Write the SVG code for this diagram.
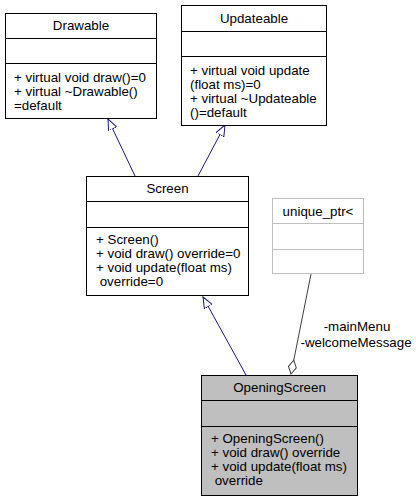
<svg xmlns="http://www.w3.org/2000/svg" width="416" height="501" viewBox="0 0 416 501">
<defs>
<style>
text{font-family:"Liberation Sans",Arial,sans-serif;font-size:13.33px;fill:#000;white-space:pre}
.t{text-anchor:middle}
.box{fill:#fff;stroke:#000;stroke-width:1}
.div{stroke:#000;stroke-width:1}
.gbox{fill:#fff;stroke:#bfbfbf;stroke-width:1}
.gdiv{stroke:#bfbfbf;stroke-width:1}
.cur{fill:#bfbfbf;stroke:#000;stroke-width:1}
.inh{stroke:#191970;stroke-width:1;fill:none;marker-end:url(#tri)}
.agg{stroke:#404040;stroke-width:1;fill:none;marker-end:url(#dia)}
</style>
<marker id="tri" markerUnits="userSpaceOnUse" markerWidth="14" markerHeight="12" refX="11" refY="6" orient="auto" viewBox="0 0 14 12">
<path d="M11,6 L0,1.5 L0,10.5 Z" fill="#fff" stroke="#191970" stroke-width="1"/>
</marker>
<marker id="dia" markerUnits="userSpaceOnUse" markerWidth="16" markerHeight="10" refX="15" refY="5" orient="auto" viewBox="0 0 16 10">
<path d="M15,5 L8,1 L1,5 L8,9 Z" fill="#fff" stroke="#404040" stroke-width="1"/>
</marker>
</defs>
<rect width="416" height="501" fill="#fff"/>
<g id="connectors">
<line class="inh" x1="135" y1="176" x2="108" y2="119"/>
<line class="inh" x1="198" y1="176" x2="225" y2="125"/>
<line class="inh" x1="246" y1="375" x2="203" y2="297"/>
<line class="agg" x1="311" y1="274" x2="291" y2="374"/>
<text class="t" x="357" y="331">-mainMenu</text>
<text class="t" x="356" y="347">-welcomeMessage</text>
</g>
<g id="Drawable">
<rect class="box" x="5.5" y="13.5" width="151" height="105"/>
<line class="div" x1="5.5" y1="38.5" x2="156.5" y2="38.5"/>
<line class="div" x1="5.5" y1="63.5" x2="156.5" y2="63.5"/>
<text class="t" x="81" y="30">Drawable</text>
<text x="14" y="82">+ virtual void draw()=0</text>
<text x="14" y="96">+ virtual ~Drawable()</text>
<text x="14" y="110">=default</text>
</g>
<g id="Updateable">
<rect class="box" x="181.5" y="5.5" width="145" height="120"/>
<line class="div" x1="181.5" y1="31.5" x2="326.5" y2="31.5"/>
<line class="div" x1="181.5" y1="56.5" x2="326.5" y2="56.5"/>
<text class="t" x="254" y="23">Updateable</text>
<text x="190" y="75">+ virtual void update</text>
<text x="190" y="89">(float ms)=0</text>
<text x="190" y="103">+ virtual ~Updateable</text>
<text x="190" y="117">()=default</text>
</g>
<g id="Screen">
<rect class="box" x="86.5" y="176.5" width="162" height="119"/>
<line class="div" x1="86.5" y1="201.5" x2="248.5" y2="201.5"/>
<line class="div" x1="86.5" y1="227.5" x2="248.5" y2="227.5"/>
<text class="t" x="167.5" y="193">Screen</text>
<text x="96" y="244">+ Screen()</text>
<text x="96" y="258">+ void draw() override=0</text>
<text x="96" y="272">+ void update(float ms)</text>
<text x="96" y="286"> override=0</text>
</g>
<g id="unique_ptr">
<rect class="gbox" x="272.5" y="198.5" width="91" height="75"/>
<line class="gdiv" x1="272.5" y1="223.5" x2="363.5" y2="223.5"/>
<line class="gdiv" x1="272.5" y1="249.5" x2="363.5" y2="249.5"/>
<text class="t" x="318" y="216">unique_ptr&lt;</text>
</g>
<g id="OpeningScreen">
<rect class="cur" x="201.5" y="375.5" width="156" height="120"/>
<line class="div" x1="201.5" y1="400.5" x2="357.5" y2="400.5"/>
<line class="div" x1="201.5" y1="426.5" x2="357.5" y2="426.5"/>
<text class="t" x="279.5" y="392">OpeningScreen</text>
<text x="211" y="443">+ OpeningScreen()</text>
<text x="211" y="457">+ void draw() override</text>
<text x="211" y="471">+ void update(float ms)</text>
<text x="211" y="485"> override</text>
</g>
</svg>
